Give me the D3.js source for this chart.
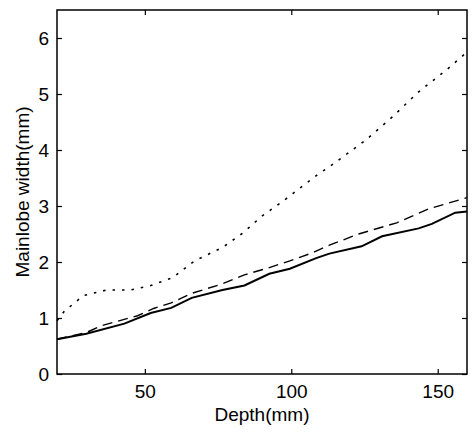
<!DOCTYPE html>
<html>
<head>
<meta charset="utf-8">
<script src="https://cdn.jsdelivr.net/npm/d3@7"></script>
<style>
  body { margin: 0; background: #fff; }
  svg text { font-family: "Liberation Sans", Arial, sans-serif; fill: #000; }
</style>
</head>
<body>
<svg id="chart" width="472" height="433"></svg>
<script>
// depth (mm) and mainlobe width (mm)
const solidDepth = [20, 30, 43, 52, 59, 66, 76.5, 84, 92.5, 99.5, 108.5, 113, 124, 131, 143.5, 148, 156, 160];
const solidWidth = [0.62, 0.72, 0.9, 1.09, 1.18, 1.36, 1.5, 1.58, 1.79, 1.88, 2.07, 2.15, 2.28, 2.46, 2.6, 2.68, 2.88, 2.9];

const dashDepth = [20, 30, 35, 47.5, 53, 59, 66, 76.5, 84, 92.5, 99.5, 107, 113, 123, 136, 147, 160];
const dashWidth = [0.62, 0.74, 0.86, 1.04, 1.17, 1.27, 1.44, 1.61, 1.77, 1.9, 2.02, 2.16, 2.3, 2.5, 2.7, 2.95, 3.15];

const dotDepth = [20, 22.5, 29, 37, 45, 52, 59.5, 67, 76.5, 83.5, 90, 97, 100.5, 109.5, 113, 125.5, 134.5, 143.5, 153, 160];
const dotWidth = [0.95, 1.12, 1.4, 1.5, 1.5, 1.58, 1.72, 2.02, 2.26, 2.52, 2.82, 3.08, 3.22, 3.58, 3.7, 4.18, 4.59, 5.04, 5.43, 5.75];

const xTicks = [50, 100, 150];
const yTicks = [0, 1, 2, 3, 4, 5, 6];

const margin = {top: 10, right: 5, bottom: 59, left: 57},
      width = 472 - margin.left - margin.right,
      height = 433 - margin.top - margin.bottom;

const svg = d3.select("#chart");
const g = svg.append("g").attr("transform", `translate(${margin.left},${margin.top})`);

const x = d3.scaleLinear().domain([20, 160]).range([0, width]);
const y = d3.scaleLinear().domain([0, 6.5]).range([height, 0]);

const line = d3.line().x(d => x(d[0])).y(d => y(d[1]));

// the three curves
const series = [
  {depth: solidDepth, vals: solidWidth, dash: null, w: 2},
  {depth: dashDepth, vals: dashWidth, dash: "10,6", w: 1.4},
  {depth: dotDepth, vals: dotWidth, dash: "2.5,7", w: 1.6}
];
series.forEach(s => {
  g.append("path")
    .datum(d3.zip(s.depth, s.vals))
    .attr("fill", "none")
    .attr("stroke", "#000")
    .attr("stroke-width", s.w)
    .attr("stroke-dasharray", s.dash)
    .attr("d", line);
});

// axes, ticks pointing in (matlab style)
const styleAxis = sel => {
  sel.select(".domain").remove();
  sel.selectAll(".tick line").attr("stroke", "#000").attr("stroke-width", 1.2);
  sel.selectAll(".tick text").style("font-size", "19px");
};

g.append("g").attr("transform", `translate(0,${height})`)
  .call(d3.axisBottom(x).tickValues(xTicks).tickSize(-5).tickPadding(11).tickFormat(d3.format("d")))
  .call(styleAxis);
g.append("g")
  .call(d3.axisTop(x).tickValues(xTicks).tickSize(-5).tickFormat(""))
  .call(styleAxis);
g.append("g")
  .call(d3.axisLeft(y).tickValues(yTicks).tickSize(-5).tickPadding(8).tickFormat(d3.format("d")))
  .call(styleAxis);
g.append("g").attr("transform", `translate(${width},0)`)
  .call(d3.axisRight(y).tickValues(yTicks).tickSize(-5).tickFormat(""))
  .call(styleAxis);

g.append("rect")
  .attr("width", width).attr("height", height)
  .attr("fill", "none").attr("stroke", "#000").attr("stroke-width", 1.5);

// axis titles
svg.append("text")
  .attr("x", margin.left + width / 2).attr("y", 421)
  .attr("text-anchor", "middle")
  .style("font-size", "19px")
  .text("Depth(mm)");

svg.append("text")
  .attr("transform", `translate(29,${margin.top + height / 2}) rotate(-90)`)
  .attr("text-anchor", "middle")
  .style("font-size", "19px")
  .text("Mainlobe width(mm)");
</script>
</body>
</html>
